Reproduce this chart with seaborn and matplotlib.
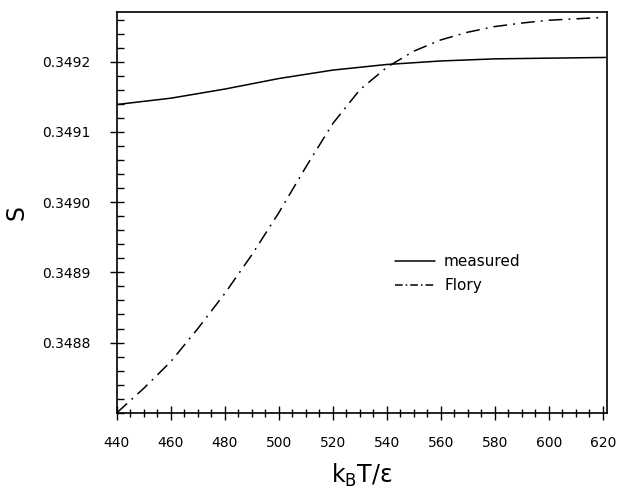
import numpy as np
import pandas as pd
import matplotlib
matplotlib.use("Agg")
import matplotlib.pyplot as plt
from matplotlib.ticker import MultipleLocator, FixedLocator
import seaborn as sns

# Data
measured_T = [440, 460, 480, 500, 520, 540, 560, 580, 600, 621]
measured_S = [0.349139, 0.349148, 0.349161, 0.349176, 0.349188, 0.349196,
              0.349201, 0.349204, 0.349205, 0.349206]

flory_T = [440, 450, 460, 470, 480, 490, 500, 510, 520, 530, 540, 550,
           560, 570, 580, 590, 600, 610, 620]
flory_S = [0.348700, 0.348735, 0.348773, 0.348820, 0.348870, 0.348925,
           0.348985, 0.349050, 0.349112, 0.349160, 0.349192, 0.349215,
           0.349231, 0.349242, 0.349250, 0.349255, 0.349259, 0.349261,
           0.349263]

x_ticks = [440, 460, 480, 500, 520, 540, 560, 580, 600, 620]
y_ticks = [0.3488, 0.3489, 0.3490, 0.3491, 0.3492]
y_tick_labels = ["0.3488", "0.3489", "0.3490", "0.3491", "0.3492"]

df_m = pd.DataFrame({"T": measured_T, "S": measured_S})
df_f = pd.DataFrame({"T": flory_T, "S": flory_S})

sns.set_style("white")
plt.rcParams['font.family'] = ['DejaVu Sans']
plt.rcParams['text.color'] = 'black'
plt.rcParams['axes.labelcolor'] = 'black'
plt.rcParams['xtick.color'] = 'black'
plt.rcParams['ytick.color'] = 'black'

fig = plt.figure(figsize=(6.25, 4.92), dpi=100)
ax = fig.add_axes([0.187, 0.161, 0.784, 0.815])

sns.lineplot(data=df_m, x="T", y="S", ax=ax, color="black", lw=1.1,
             label="measured", sort=True)
sns.lineplot(data=df_f, x="T", y="S", ax=ax, color="black", lw=1.1,
             label="Flory", sort=True)
ax.lines[1].set_dashes([9, 4, 1.2, 4])

ax.set_xlim(440, 621.5)
ax.set_ylim(0.3487, 0.349271)

ax.xaxis.set_major_locator(FixedLocator(x_ticks))
ax.set_xticklabels([str(t) for t in x_ticks])
ax.xaxis.set_minor_locator(MultipleLocator(5))
ax.yaxis.set_major_locator(FixedLocator(y_ticks))
ax.set_yticklabels(y_tick_labels)
ax.yaxis.set_minor_locator(MultipleLocator(0.00002))

ax.tick_params(axis="x", which="major", direction="inout", length=10,
               width=1, pad=12, labelsize=10, bottom=True, top=False)
ax.tick_params(axis="x", which="minor", direction="inout", length=6,
               width=1, bottom=True, top=False)
ax.tick_params(axis="y", which="major", direction="inout", length=10,
               width=1, pad=14, labelsize=10, left=True, right=False)
ax.tick_params(axis="y", which="minor", direction="in", length=5,
               width=1, left=True, right=False)

for s in ax.spines.values():
    s.set_color("black")
    s.set_linewidth(1.2)

ax.set_xlabel(r"k$_\mathrm{B}$T/ε", fontsize=17, labelpad=8)
ax.set_ylabel("S", fontsize=17, labelpad=10)

leg = ax.legend(loc="upper left", bbox_to_anchor=(0.54, 0.43), frameon=False,
                fontsize=11, handlelength=2.6, handletextpad=0.6,
                labelspacing=0.6)
leg.get_lines()[1].set_dashes([5, 2, 1, 2])

fig.savefig("out.png", dpi=100)
